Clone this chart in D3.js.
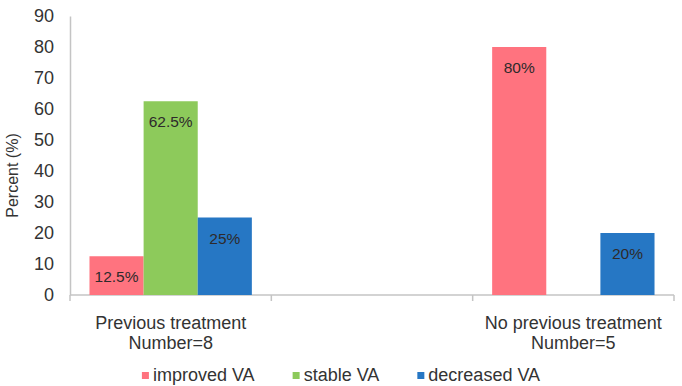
<!DOCTYPE html>
<html lang="en">
<head>
    <meta charset="UTF-8">
    <script src="https://d3js.org/d3.v7.min.js"></script>
    <style>
        body {
            margin: 0;
            background: #fff;
            font-family: Arial, "Liberation Sans", sans-serif;
        }
        svg {
            display: block;
        }
    </style>
</head>
<body>
    <svg width="682" height="386"></svg>
    <script>
        // categories (middle one is an empty slot, as in the original)
        let groups = ["Previous treatment|Number=8", "", "No previous treatment|Number=5"];
        let series = ["improved VA", "stable VA", "decreased VA"];
        let improved = [12.5, null, 80];
        let stable = [62.5, null, 0];
        let decreased = [25, null, 20];
        let yTicks = [0, 10, 20, 30, 40, 50, 60, 70, 80, 90];
        let colors = ["#ff737f", "#8dca5b", "#2677c4"];

        let values = [improved, stable, decreased];
        let data = groups.map((g, i) => ({
            group: g,
            vals: series.map((s, j) => ({ series: s, value: values[j][i] }))
        }));

        let margin = { top: 16, right: 8, bottom: 91, left: 70 },
            width = 682 - margin.left - margin.right,
            height = 386 - margin.top - margin.bottom;

        let svg = d3.select("svg")
            .append("g")
            .attr("transform", `translate(${margin.left},${margin.top})`);

        let x0 = d3.scaleBand()
            .domain(groups)
            .range([0, width])
            .padding(0);

        let x1 = d3.scaleBand()
            .domain(series)
            .range([0, x0.bandwidth()])
            .paddingInner(0)
            .paddingOuter(0.36);

        let y = d3.scaleLinear()
            .domain([0, 90])
            .range([height, 0]);

        // y axis
        let yAxis = svg.append("g")
            .call(d3.axisLeft(y).tickValues(yTicks).tickSize(0).tickPadding(16));
        yAxis.select(".domain").attr("stroke", "#c4c4c4").attr("stroke-width", 1.5);
        yAxis.selectAll("text")
            .style("font-size", "18px")
            .style("fill", "#333")
            .attr("font-family", "Arial, 'Liberation Sans', sans-serif");

        // x axis with ticks on category boundaries
        let xAxis = svg.append("g")
            .attr("transform", `translate(0,${height})`);
        xAxis.append("line")
            .attr("x1", 0).attr("x2", width)
            .attr("stroke", "#c4c4c4").attr("stroke-width", 1.5);
        let bounds = groups.map(g => x0(g)).concat([x0(groups[groups.length - 1]) + x0.bandwidth()]);
        xAxis.selectAll(".btick")
            .data(bounds)
            .enter().append("line")
            .attr("x1", d => d).attr("x2", d => d)
            .attr("y1", 0).attr("y2", 6)
            .attr("stroke", "#c4c4c4").attr("stroke-width", 1.5);

        let xl = xAxis.selectAll(".xlab")
            .data(groups.filter(g => g))
            .enter().append("text")
            .attr("text-anchor", "middle")
            .attr("x", d => x0(d) + x0.bandwidth() / 2)
            .style("font-size", "18px")
            .style("fill", "#333");
        xl.append("tspan")
            .attr("x", d => x0(d) + x0.bandwidth() / 2)
            .attr("y", 34)
            .text(d => d.split("|")[0]);
        xl.append("tspan")
            .attr("x", d => x0(d) + x0.bandwidth() / 2)
            .attr("y", 54)
            .text(d => d.split("|")[1]);

        // bars
        let g = svg.selectAll(".grp")
            .data(data)
            .enter().append("g")
            .attr("transform", d => `translate(${x0(d.group)},0)`);

        g.selectAll("rect")
            .data(d => d.vals.filter(v => v.value))
            .enter().append("rect")
            .attr("x", d => x1(d.series))
            .attr("width", x1.bandwidth())
            .attr("y", d => y(d.value))
            .attr("height", d => height - y(d.value))
            .attr("fill", d => colors[series.indexOf(d.series)]);

        g.selectAll(".lbl")
            .data(d => d.vals.filter(v => v.value))
            .enter().append("text")
            .attr("text-anchor", "middle")
            .attr("x", d => x1(d.series) + x1.bandwidth() / 2)
            .attr("y", d => y(d.value) + 26)
            .text(d => d.value + "%")
            .style("font-size", "15.5px")
            .style("fill", "#2e2a2b");

        // y axis title
        svg.append("text")
            .attr("transform", `translate(${-52},${height / 2 + 20}) rotate(-90)`)
            .attr("text-anchor", "middle")
            .text("Percent (%)")
            .style("font-size", "16px")
            .style("fill", "#333");

        // legend, centred under the chart
        let legend = d3.select("svg").append("g");
        let lx = 0;
        series.forEach((s, i) => {
            let item = legend.append("g").attr("transform", `translate(${lx},0)`);
            item.append("rect")
                .attr("x", 0).attr("y", 372)
                .attr("width", 7).attr("height", 7)
                .attr("fill", colors[i]);
            let t = item.append("text")
                .attr("x", 11).attr("y", 381)
                .text(s)
                .style("font-size", "18px")
                .style("fill", "#333");
            lx += 11 + t.node().getComputedTextLength() + 38;
        });
        let lw = legend.node().getBBox().width;
        legend.attr("transform", `translate(${(682 - lw) / 2},0)`);
    </script>
</body>
</html>
